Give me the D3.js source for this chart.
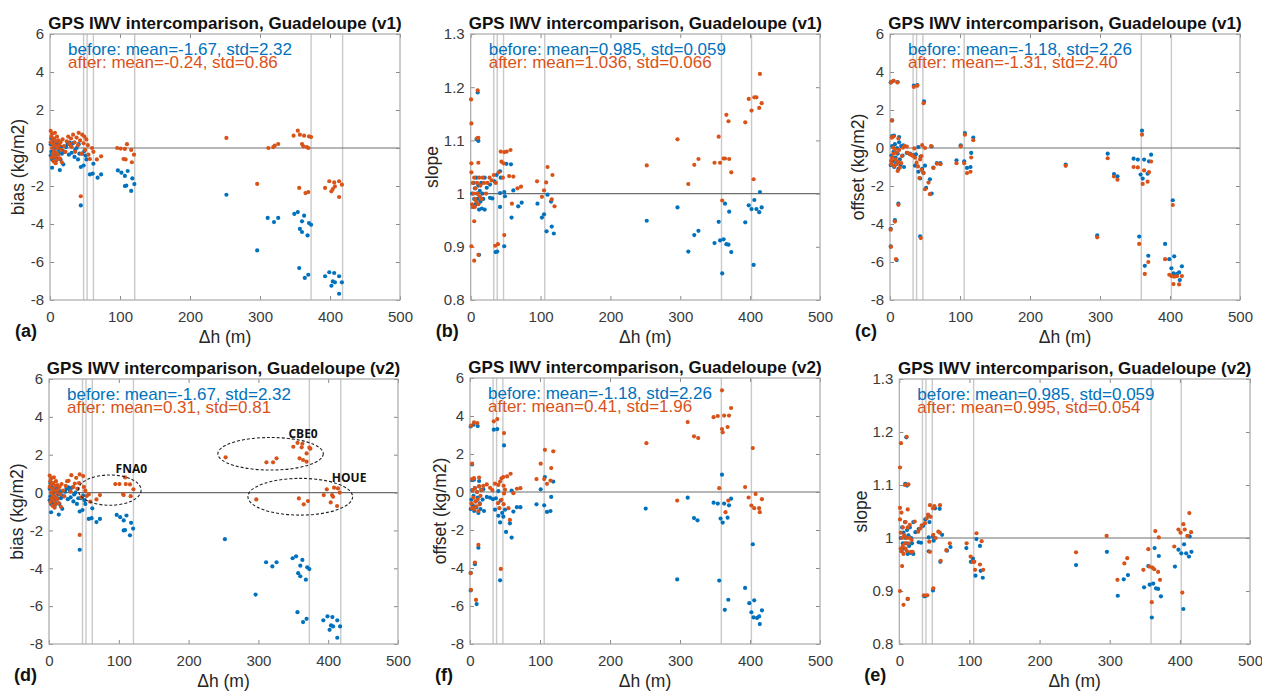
<!DOCTYPE html>
<html>
<head>
<meta charset="utf-8">
<script src="https://cdn.jsdelivr.net/npm/d3@7"></script>
<style>
  body { margin: 0; background: #fff; }
  svg text { font-family: "Liberation Sans", Arial, Helvetica, sans-serif; }
</style>
</head>
<body>
<svg id="chart" width="1262" height="691"></svg>
<script>
// ---- data ----
var xTicks = [0, 100, 200, 300, 400, 500];
var kgTicks = [-8, -6, -4, -2, 0, 2, 4, 6];
var slopeTicks = [0.8, 0.9, 1, 1.1, 1.2, 1.3];

// grey vertical marker lines (dh, m)
var dhLinesBias = [48, 53, 62, 121, 373, 418];
var dhLinesOther = [33, 38, 47, 106, 359, 402];

// [dh (m), value]
var biasBefore = [[1,0.2],[1,-0.4],[2,0.5],[2,-0.2],[3,-0.6],[3,-1.04],[4,0.3],[4,-0.3],[5,0.0],[6,-0.5],[6,0.2],[7,-0.2],[8,-0.7],[8,0.1],[9,0.19],[9,-0.35],[10,0.0],[10,-0.55],[11,0.25],[12,-0.3],[13,-0.1],[14,-1.16],[14,0.1],[15,-0.6],[16,0.05],[17,-0.3],[18,-0.15],[19,-0.86],[21,-0.2],[23,0.05],[25,0.2],[27,-0.35],[28,0.28],[30,0.1],[31,-0.25],[33,0.26],[35,-0.47],[36,-0.1],[38,0.0],[40,-0.6],[41,0.2],[42,-0.3],[44,-1.0],[44,-3.02],[46,-0.3],[48,-0.92],[49,-0.16],[51,-0.4],[52,-0.6],[57,-1.39],[61,-1.35],[62,-0.83],[68,-1.56],[73,-1.39],[97,-1.18],[102,-1.3],[107,-1.47],[107,-2.0],[109,-1.98],[111,-1.21],[116,-2.26],[117.6,-1.6],[120.5,-1.9],[252,-2.46],[296,-5.39],[311,-3.68],[320,-3.9],[326,-3.68],[349,-3.47],[354,-3.37],[356,-6.32],[357,-4.26],[360,-3.86],[360,-4.42],[363,-3.56],[364,-6.84],[368,-4.6],[369,-6.67],[370,-3.95],[373,-4.04],[393,-6.75],[399,-6.54],[402,-7.25],[404,-7.02],[406,-6.58],[407,-7.07],[413,-7.67],[413,-6.75],[417,-7.07]];
var biasAfterV1 = [[1,0.9],[1,0.3],[2,0.6],[2,-0.5],[3,0.75],[3,0.0],[4,-0.3],[4,0.45],[5,-0.7],[5,0.2],[6,0.5],[6,-0.15],[7,0.8],[7,-0.45],[8,0.1],[8,-0.8],[9,0.35],[9,-0.25],[10,0.6],[10,-0.6],[11,0.0],[12,0.4],[12,-0.35],[13,0.15],[14,-0.55],[15,0.3],[16,-0.1],[17,-0.75],[18,0.45],[20,0.1],[22,-0.2],[24,0.35],[26,0.6],[28,0.2],[30,0.5],[31,0.05],[33,0.7],[35,0.3],[36,-0.2],[38,0.55],[40,0.15],[41,0.8],[43,0.4],[44,-2.54],[45,-0.3],[46,0.7],[48,0.25],[49,0.6],[50,-0.1],[52,0.45],[54,0.15],[55,-0.35],[57,-0.58],[60,0.0],[62,-0.2],[67,-0.6],[73,-0.44],[96,0.0],[101,-0.03],[105,-0.58],[107,-0.05],[108,-0.6],[110,0.2],[116,-0.1],[117,-0.75],[120,-0.35],[252,0.53],[296,-1.89],[312,0.0],[319,0.05],[321,0.12],[326,0.21],[348,0.65],[354,0.91],[356,-2.1],[357,0.7],[360,0.21],[362,0.09],[363,0.65],[365,-2.37],[367,0.05],[369,0.0],[369,-2.32],[370,0.61],[373,0.58],[393,-2.1],[399,-1.75],[402,-2.28],[404,-2.16],[406,-1.81],[407,-2.02],[413,-2.58],[413,-1.75],[417,-1.93]];
var biasAfterV2 = [[1,0.9],[1,0.3],[2,0.6],[2,-0.5],[3,0.75],[3,0.0],[4,-0.3],[4,0.45],[5,-0.7],[5,0.2],[6,0.5],[6,-0.15],[7,0.8],[7,-0.45],[8,0.1],[8,-0.8],[9,0.35],[9,-0.25],[10,0.6],[10,-0.6],[11,0.0],[12,0.4],[12,-0.35],[13,0.15],[14,-0.55],[15,0.3],[16,-0.1],[17,-0.75],[18,0.45],[20,0.1],[22,-0.2],[24,0.35],[26,0.6],[28,0.62],[31,0.05],[32,0.92],[35,0.3],[37,0.48],[39,0.78],[41,0.2],[43,0.5],[44,0.96],[44,-2.24],[46,-0.25],[49,0.87],[50,0.3],[52,0.1],[54,-0.18],[57,-0.1],[59,-0.48],[68,-0.36],[73,-0.13],[95,0.45],[101,0.45],[106,-0.08],[107,-0.13],[109,0.8],[110,0.45],[116,0.43],[117,-0.19],[121,0.17],[253,1.86],[297,-0.36],[311.5,1.6],[321,1.6],[326,1.81],[350,2.42],[356,2.63],[358,-0.31],[359,1.81],[362,2.39],[363,2.58],[364,1.72],[365,-0.62],[369,2.07],[369,1.63],[371,-0.45],[373,2.37],[374.5,2.32],[393.6,-0.13],[398,0.17],[403.6,-0.52],[405.5,-0.13],[407,-0.22],[408.4,0.26],[412.7,-0.71],[414,0.22],[416.5,0.0]];

var slopeBefore = [[2,1.0],[3,0.975],[4,1.02],[5,0.99],[6,1.01],[7,0.98],[8,1.03],[8.5,1.102],[9,1.0],[10,1.19],[10,0.99],[11,1.099],[11,1.015],[12,0.885],[12,0.97],[13,1.005],[14,0.985],[15,1.02],[16,0.972],[17,1.0],[18,0.99],[20,1.03],[20,0.97],[23,1.011],[27.6,1.017],[27.6,0.992],[31,0.991],[34,1.023],[35.7,0.89],[37,1.035],[38,0.891],[42,1.042],[42,1.001],[42,0.975],[43,1.03],[48,1.003],[48,0.901],[49,0.995],[51,1.056],[57.6,1.055],[58.5,0.955],[61,1.006],[68,0.976],[73,0.983],[95.6,0.981],[102,0.955],[105,0.961],[108.6,0.929],[110,0.998],[115,0.985],[116,0.938],[119,0.925],[252,0.949],[296,0.974],[311.5,0.891],[320,0.922],[326,0.93],[349,0.907],[355,0.947],[357,0.912],[360,0.85],[362,0.914],[364,0.981],[366,0.905],[369,0.904],[370,0.966],[373,0.89],[393,0.946],[398,0.978],[402,0.971],[405,0.866],[406,0.988],[409,0.971],[413,0.965],[414,1.003],[416.5,0.974]];
var slopeAfterV1 = [[1,1.132],[1,1.057],[1,1.04],[0.5,1.177],[1,0.901],[2,0.98],[3,1.02],[3,0.975],[4,1.0],[5,0.874],[5,0.948],[5,1.03],[6,0.99],[6,0.975],[7,1.01],[8,0.985],[9,1.104],[9,1.02],[10,1.194],[10,1.0],[11,1.105],[11,0.885],[11,1.058],[11,0.98],[12,1.03],[13,0.995],[14,1.015],[15,0.99],[17,1.03],[19,1.02],[22,1.0],[24,1.02],[27,1.03],[30,1.025],[33,1.035],[35,0.902],[36,1.02],[39,0.905],[40,1.04],[43,1.079],[44,1.06],[46,1.03],[47,1.057],[48,1.078],[48,0.922],[51.5,1.079],[55,1.033],[57,1.082],[59,0.981],[61,1.032],[67,1.01],[72,1.013],[95,1.023],[102,0.994],[105,1.006],[108,1.021],[110,1.05],[116,0.989],[117,1.035],[120,0.976],[252,1.053],[296,1.102],[311.5,1.018],[320,1.054],[326,1.065],[349,1.058],[355,1.107],[357,1.058],[360,0.987],[362,1.066],[364,1.066],[366,1.148],[369,1.136],[370,1.065],[373,1.04],[393,1.134],[398,1.178],[402,1.156],[405,1.027],[406,1.181],[409,1.181],[413,1.161],[414,1.225],[416.5,1.17]];
var slopeAfterV2 = [[1,1.133],[2.4,1.179],[1,1.057],[1,0.9],[1,1.035],[2,0.98],[2,1.01],[3,1.048],[3,0.975],[4,0.947],[4,1.0],[5,1.02],[5,0.985],[6,0.874],[6,0.97],[7,1.005],[8,1.1],[8,0.99],[9,1.03],[9,0.98],[10,1.0],[10.5,1.191],[11,0.975],[12,1.054],[12,0.885],[12,1.02],[13,1.101],[13,0.99],[14,1.0],[15,1.025],[16.6,0.974],[17.6,0.996],[19,0.974],[22,1.031],[27,1.012],[30,1.018],[32,1.024],[35,0.892],[36.6,1.028],[39,1.037],[40,0.892],[41,1.044],[42.7,0.993],[43.7,1.062],[43.7,0.974],[44.7,1.04],[48,1.056],[48.5,1.006],[48.5,0.905],[50,1.06],[52,1.0],[55.6,1.012],[57.7,1.01],[58,1.062],[59,0.957],[67,0.977],[72,0.99],[96,0.99],[101.7,0.965],[104.6,0.955],[107,0.955],[108,0.94],[110,1.009],[115,0.95],[117.4,0.994],[119.6,0.94],[252,0.973],[295.6,1.004],[311,0.921],[320.8,0.952],[325,0.962],[348,0.94],[355,0.979],[356.7,0.946],[360,0.879],[361,0.944],[363.5,0.941],[365,1.013],[369,0.936],[370,1.001],[371.7,0.921],[392,0.984],[398,1.016],[401,1.01],[403.5,0.897],[405,1.026],[407,1.016],[410.6,1.004],[413.5,1.047],[416,1.011]];

var offsetBefore = [[1,3.45],[5,3.54],[11,3.47],[34,3.28],[39,3.31],[48.6,2.45],[3,1.45],[3,0.62],[5.7,0.65],[13,0.58],[1,-4.25],[1,-5.18],[7,-3.8],[12,-2.93],[9.5,-5.9],[43,-4.65],[1,-0.9],[2,-0.4],[3,0.1],[4,-0.7],[5,-0.2],[6,-1.0],[7,0.2],[8,-0.5],[9,-0.8],[10,0.0],[11,-0.3],[12,-1.1],[13,0.3],[14,-0.6],[15,-0.9],[16,0.1],[18,-0.4],[19,0.14],[20,-1.0],[24,-0.26],[28.6,-0.3],[32.8,-0.38],[35.7,-0.93],[37,-0.33],[40.5,0.05],[40.5,-1.25],[43,-1.6],[43.7,-0.45],[46,-1.1],[47.6,-1.3],[50,-0.93],[51.5,-2.1],[57,-1.65],[59.5,-2.4],[59.5,0.08],[62,-1.03],[67,-0.8],[72,-0.8],[95,-0.65],[101,0.14],[106,-0.7],[107,0.79],[110,-1.05],[115,-1.0],[116,-0.26],[119,0.55],[251,-0.87],[296,-4.6],[311,-0.3],[320,-1.37],[325,-1.49],[348,-0.56],[354,-0.61],[356,-4.66],[358,-1.4],[360,0.91],[361,-1.61],[363,-0.61],[364,-6.2],[368,-1.35],[369,-5.67],[370,-0.7],[373,-0.35],[393,-5.05],[399,-5.85],[402,-6.33],[404,-2.75],[405,-6.6],[406,-5.7],[410,-6.63],[413,-6.55],[414,-6.95],[417,-6.23]];
var offsetAfterV1 = [[1.4,3.45],[5,3.54],[10.5,3.45],[34,3.21],[39,3.28],[48,2.36],[3,1.45],[2.4,0.54],[4.8,0.6],[12,0.5],[1,-4.3],[1.4,-5.2],[7,-3.87],[12,-2.99],[8.6,-5.85],[44,-4.74],[4.8,0.02],[7,-0.08],[9.5,-0.25],[1.5,-0.68],[2.4,-0.86],[6,-0.95],[9.5,-0.86],[12,-0.72],[14,-1.04],[11,-1.21],[17,-0.42],[18.5,0.02],[21,0.1],[24,0.08],[25,-0.25],[28.6,-0.34],[31,-0.37],[33,-0.42],[34.8,-0.02],[35.7,-0.51],[38,-0.77],[43,-0.6],[45,-0.42],[46,0.15],[50,0.0],[58.6,0.1],[3,-0.5],[5,-0.3],[8,-0.6],[13,-0.1],[16,-0.8],[40,-0.97],[42,-1.58],[45,-1.15],[48,-1.32],[50,-2.17],[55,-1.82],[57,-2.43],[62,-1.05],[67,-0.83],[72,-0.85],[95,-0.8],[101,0.09],[106,-0.8],[107,0.7],[110,-1.32],[115,-1.25],[116,-0.5],[119,0.41],[251,-0.94],[296,-4.7],[311,-0.54],[320,-1.5],[325,-1.67],[348,-1.0],[354,-1.02],[356,-5.05],[360,0.7],[361,-1.89],[363,-1.18],[364,-6.63],[368,-1.77],[369,-6.0],[370,-1.27],[373,-0.71],[393,-5.85],[399,-6.67],[402,-6.74],[404,-3.0],[405,-7.16],[406,-6.77],[410,-6.75],[413,-7.18],[417,-6.74]];
var offsetAfterV2 = [[1.4,3.49],[5.7,3.66],[10.5,3.63],[34,3.72],[39,3.84],[48.6,3.1],[3,1.49],[3,0.68],[5.7,0.73],[13,0.76],[1,-4.27],[1.4,-5.15],[7,-3.71],[12,-2.78],[8.6,-5.68],[44,-4.05],[2,-0.6],[3,-0.85],[4,0.1],[5,-0.3],[6,-0.9],[7,0.2],[8,-0.5],[9,-0.75],[10,0.0],[11,-0.4],[12,-1.0],[13,0.3],[14,-0.65],[15,-0.2],[17,0.1],[19,0.32],[24,0.4],[28.6,0.22],[32,0.1],[35.7,0.44],[40.5,0.37],[43,0.55],[45,0.72],[47.6,0.79],[48,0.33],[48.6,-0.08],[50,0.12],[53,0.82],[58,0.96],[40,-0.59],[42,-0.85],[45,-0.41],[48,-0.64],[55,-0.85],[57,-1.47],[62,-0.06],[67,0.17],[72,0.2],[95,0.68],[101,1.49],[106,0.68],[107,2.22],[110,0.43],[115,0.6],[116,1.26],[119,2.14],[252,2.57],[296,-0.45],[311,3.68],[320,2.93],[326,2.84],[348,3.94],[354,4.0],[356,0.2],[360,5.35],[360,3.31],[361,3.14],[363,4.02],[365,-1.06],[368,3.42],[369,-0.45],[370,4.02],[373,4.42],[393,0.26],[398,-0.29],[402,-0.71],[404,2.31],[406,-0.85],[408,-0.1],[413,-0.85],[414,-1.06],[417,-0.38]];

var statsBefore = ["before: mean=-1.67, std=2.32", "before: mean=0.985, std=0.059", "before: mean=-1.18, std=2.26",
                   "before: mean=-1.67, std=2.32", "before: mean=-1.18, std=2.26", "before: mean=0.985, std=0.059"];
var statsAfter = ["after: mean=-0.24, std=0.86", "after: mean=1.036, std=0.066", "after: mean=-1.31, std=2.40",
                  "after: mean=0.31, std=0.81", "after: mean=0.41, std=1.96", "after: mean=0.995, std=0.054"];

// annotated station groups in panel (d)
var stationNames = ["FNA0", "CBE0", "HOUE"];
var stationCenters = [[87, 0.13], [317.5, 2.05], [360, -0.22]];
var stationRadii = [[45, 0.8], [75.5, 0.86], [75, 0.97]];
var stationLabelAt = [[118, 1.28], [364, 3.12], [430, 0.8]];

// ---- layout ----
var blue = "#0072BD", orange = "#D95319";
var svg = d3.select("#chart");

var panels = [
  {tag: "(a)", box: [50, 400, 34, 300], ver: "v1", kind: "bias", before: biasBefore, after: biasAfterV1, lines: dhLinesBias, ylx: -32, i: 0},
  {tag: "(b)", box: [470.7, 820, 34, 300], ver: "v1", kind: "slope", before: slopeBefore, after: slopeAfterV1, lines: dhLinesOther, ylx: -39, i: 1},
  {tag: "(c)", box: [890, 1240, 34, 300], ver: "v1", kind: "offset", before: offsetBefore, after: offsetAfterV1, lines: dhLinesOther, ylx: -32, i: 2},
  {tag: "(d)", box: [49, 398, 379, 644], ver: "v2", kind: "bias", before: biasBefore, after: biasAfterV2, lines: dhLinesBias, ylx: -32, i: 3},
  {tag: "(f)", box: [470, 820, 378, 644], ver: "v2", kind: "offset", before: offsetBefore, after: offsetAfterV2, lines: dhLinesOther, ylx: -30, i: 4},
  {tag: "(e)", box: [899.3, 1250, 379, 644], ver: "v2", kind: "slope", before: slopeBefore, after: slopeAfterV2, lines: dhLinesOther, ylx: -38, i: 5}
];

var yLabels = {bias: "bias (kg/m2)", slope: "slope", offset: "offset (kg/m2)"};

function drawPanel(p) {
  var L = p.box[0], R = p.box[1], T = p.box[2], B = p.box[3];
  var isSlope = p.kind == "slope";
  var x = d3.scaleLinear().domain([0, 500]).range([L, R]);
  var y = d3.scaleLinear().domain(isSlope ? [0.8, 1.3] : [-8, 6]).range([B, T]);
  var yt = isSlope ? slopeTicks : kgTicks;
  var g = svg.append("g");

  // vertical grey marker lines
  g.selectAll(".vl").data(p.lines).enter().append("line")
    .attr("x1", d => x(d)).attr("x2", d => x(d))
    .attr("y1", T).attr("y2", B)
    .attr("stroke", "#c9c9c9").attr("stroke-width", 1.4);

  // reference line
  g.append("line")
    .attr("x1", L).attr("x2", R)
    .attr("y1", y(isSlope ? 1 : 0)).attr("y2", y(isSlope ? 1 : 0))
    .attr("stroke", "#6e6e6e").attr("stroke-width", 1.2);

  // axes
  var fmt = function(d) { return String(+d.toFixed(1)); };
  g.append("g").attr("transform", "translate(0," + B + ")")
    .call(d3.axisBottom(x).tickValues(xTicks).tickSizeInner(-4).tickSizeOuter(0).tickPadding(11).tickFormat(fmt));
  g.append("g").attr("transform", "translate(" + L + ",0)")
    .call(d3.axisLeft(y).tickValues(yt).tickSizeInner(-4).tickSizeOuter(0).tickPadding(6).tickFormat(fmt));
  g.append("g").attr("transform", "translate(0," + T + ")")
    .call(d3.axisTop(x).tickValues(xTicks).tickSizeInner(-4).tickSizeOuter(0).tickFormat(""));
  g.append("g").attr("transform", "translate(" + R + ",0)")
    .call(d3.axisRight(y).tickValues(yt).tickSizeInner(-4).tickSizeOuter(0).tickFormat(""));
  g.selectAll(".domain").remove();
  g.selectAll(".tick line").attr("stroke", "#8a8a8a");
  g.selectAll(".tick text").attr("font-size", 15).attr("fill", "#3a3a3a")
    .style("font-family", "'Liberation Sans', Arial, sans-serif");

  // box
  g.append("rect").attr("x", L).attr("y", T).attr("width", R - L).attr("height", B - T)
    .attr("fill", "none").attr("stroke", "#a8a8a8").attr("stroke-width", 1.2);

  // points
  g.selectAll(".pb").data(p.before).enter().append("circle")
    .attr("cx", d => x(d[0])).attr("cy", d => y(d[1])).attr("r", 2.1).attr("fill", blue);
  g.selectAll(".pa").data(p.after).enter().append("circle")
    .attr("cx", d => x(d[0])).attr("cy", d => y(d[1])).attr("r", 2.1).attr("fill", orange);

  // stats text
  g.append("text").attr("x", L + 18).attr("y", T + 20.5)
    .attr("font-size", 17).attr("fill", blue).text(statsBefore[p.i]);
  g.append("text").attr("x", L + 18).attr("y", T + 34)
    .attr("font-size", 17).attr("fill", orange).text(statsAfter[p.i]);

  // title
  g.append("text").attr("x", (L + R) / 2).attr("y", T - 5)
    .attr("text-anchor", "middle").attr("font-size", 17).attr("font-weight", "bold").attr("fill", "#111")
    .text("GPS IWV intercomparison, Guadeloupe (" + p.ver + ")");

  // axis labels
  g.append("text").attr("x", (L + R) / 2).attr("y", B + 43)
    .attr("text-anchor", "middle").attr("font-size", 17.5).attr("fill", "#262626").text("\u0394h (m)");
  g.append("text")
    .attr("transform", "translate(" + (L + p.ylx) + "," + ((T + B) / 2) + ") rotate(-90)")
    .attr("dy", "0.35em").attr("text-anchor", "middle").attr("font-size", 17.5).attr("fill", "#262626")
    .text(yLabels[p.kind]);

  // panel tag
  g.append("text").attr("x", L - 35).attr("y", B + 37)
    .attr("font-size", 18).attr("font-weight", "bold").attr("fill", "#111").text(p.tag);

  return {x: x, y: y, g: g};
}

var drawn = panels.map(drawPanel);

// station groups on panel (d)
var pd = drawn[3];
pd.g.selectAll(".ell").data(stationCenters).enter().append("ellipse")
  .attr("cx", d => pd.x(d[0])).attr("cy", d => pd.y(d[1]))
  .attr("rx", (d, i) => pd.x(d[0] + stationRadii[i][0]) - pd.x(d[0]))
  .attr("ry", (d, i) => pd.y(d[1]) - pd.y(d[1] + stationRadii[i][1]))
  .attr("fill", "none").attr("stroke", "#222").attr("stroke-width", 1.1)
  .attr("stroke-dasharray", "3,2");
pd.g.selectAll(".stn").data(stationNames).enter().append("text")
  .attr("x", (d, i) => pd.x(stationLabelAt[i][0])).attr("y", (d, i) => pd.y(stationLabelAt[i][1]))
  .attr("dy", "0.35em").attr("text-anchor", "middle")
  .attr("font-size", 12).attr("font-weight", "bold").attr("fill", "#111")
  .style("font-family", "'Open Sans', 'Noto Sans', sans-serif")
  .text(d => d);
</script>
</body>
</html>
